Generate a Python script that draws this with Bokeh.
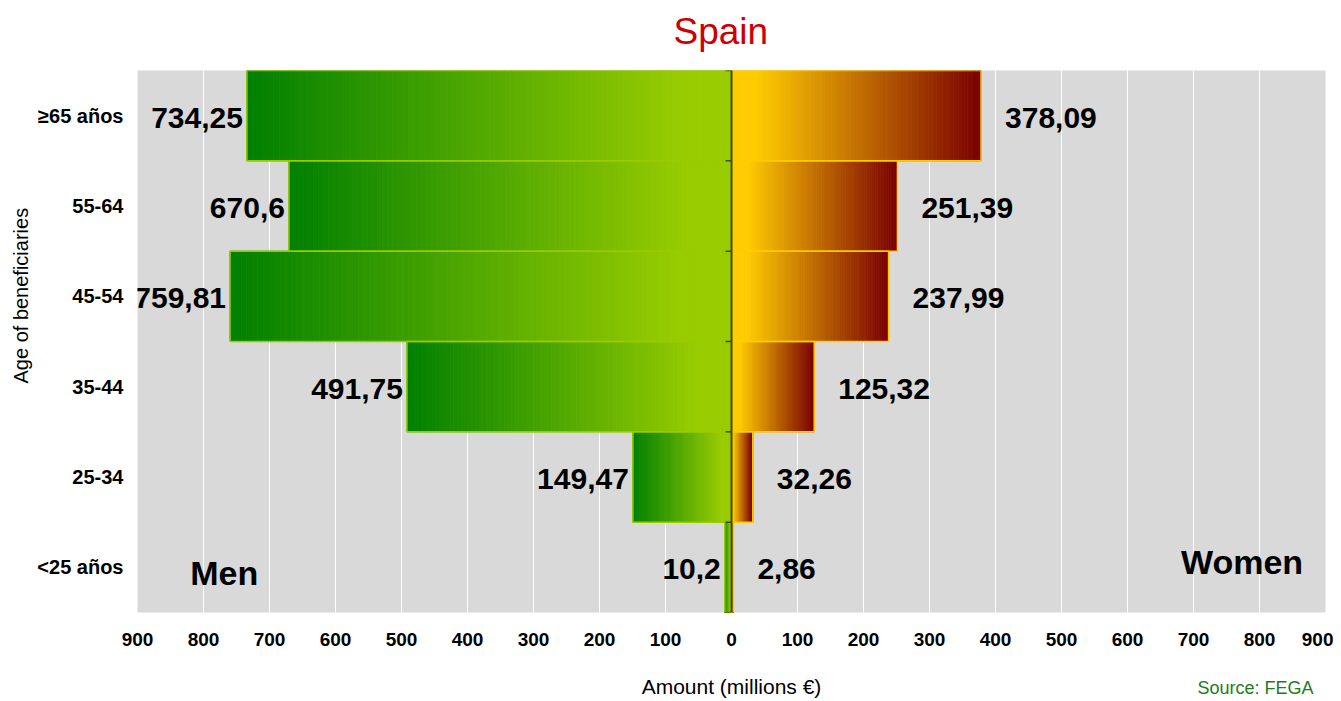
from bokeh.plotting import figure
from bokeh.models import Range1d, FactorRange, FixedTicker, CustomJSTickFormatter, Span, Title, ColumnDataSource
from bokeh.core.properties import value
from bokeh.embed import file_html
from bokeh.resources import INLINE

# ---------------- data ----------------
categories = ["≥65 años", "55-64", "45-54", "35-44", "25-34", "<25 años"]   # top to bottom
men_values = [734.25, 670.6, 759.81, 491.75, 149.47, 10.2]
women_values = [378.09, 251.39, 237.99, 125.32, 32.26, 2.86]
x_ticks = list(range(-900, 1000, 100))

men_labels = [str(v).replace(".", ",") for v in men_values]
women_labels = [str(v).replace(".", ",") for v in women_values]

FONT = "Liberation Sans"
MEN_STOPS = [(0.0, (0, 128, 0)), (0.9, (153, 204, 0)), (1.0, (153, 204, 0))]
WOMEN_STOPS = [(0.0, (255, 204, 0)), (0.1, (255, 204, 0)), (1.0, (122, 0, 0))]
N_SLICES = 90


def lerp_color(stops, t):
    for (p0, c0), (p1, c1) in zip(stops[:-1], stops[1:]):
        if t <= p1:
            f = 0.0 if p1 == p0 else (t - p0) / (p1 - p0)
            f = min(max(f, 0.0), 1.0)
            return "#%02x%02x%02x" % tuple(int(round(a + (b - a) * f)) for a, b in zip(c0, c1))
    return "#%02x%02x%02x" % stops[-1][1]


def gradient_slices(cats, vals, sign, stops):
    ys, lefts, rights, colors = [], [], [], []
    for c, v in zip(cats, vals):
        start = -v if sign < 0 else 0.0
        for i in range(N_SLICES):
            ys.append(c)
            lefts.append(start + v * i / N_SLICES)
            rights.append(start + v * (i + 1) / N_SLICES)
            colors.append(lerp_color(stops, (i + 0.5) / N_SLICES))
    return ColumnDataSource(dict(y=ys, left=lefts, right=rights, color=colors))


p = figure(
    width=1333, height=700,
    x_range=Range1d(-900, 900),
    y_range=FactorRange(factors=categories[::-1]),
    output_backend="svg", toolbar_location=None,
    min_border_left=137, min_border_right=8, min_border_top=70, min_border_bottom=88,
    x_axis_label="Amount (millions €)",
)

p.background_fill_color = "#d9d9d9"
p.border_fill_color = "white"
p.outline_line_color = None
p.title.text = ""

# spacer + main title above the frame
p.add_layout(Title(text=" ", text_font_size="15px", standoff=0), "above")
p.add_layout(Title(text="Spain", align="left", offset=536, standoff=0, vertical_align="bottom",
                   text_font=FONT, text_font_size="37px", text_font_style="normal",
                   text_color="#cc0000"), "above")

# y-axis title (side title so it can sit a little above centre)
p.add_layout(Title(text="Age of beneficiaries", align="left", offset=229, standoff=6,
                   text_font=FONT, text_font_size="20px", text_font_style="normal",
                   text_color="black"), "left")

# grid
p.xgrid.ticker = FixedTicker(ticks=x_ticks)
p.xgrid.grid_line_color = "white"
p.xgrid.grid_line_width = 1
p.ygrid.grid_line_color = None

# x axis
xa = p.xaxis[0]
xa.ticker = FixedTicker(ticks=x_ticks)
xa.formatter = CustomJSTickFormatter(code="return Math.abs(tick).toString();")
xa.major_label_text_font = FONT
xa.major_label_text_font_size = "19px"
xa.major_label_text_font_style = "bold"
xa.major_label_text_color = "black"
xa.major_label_standoff = 20
xa.major_tick_in = 0
xa.major_tick_out = 0
xa.minor_tick_in = 0
xa.minor_tick_out = 0
xa.axis_line_color = None
xa.axis_label_text_font = FONT
xa.axis_label_text_font_size = "21px"
xa.axis_label_text_font_style = "normal"
xa.axis_label_text_color = "black"
xa.axis_label_standoff = 26

# source note, pulled up onto the axis-title row
p.add_layout(Title(text="Source: FEGA", align="right", offset=12, standoff=-46, vertical_align="top",
                   text_font=FONT, text_font_size="18px", text_font_style="normal",
                   text_color="#1e7b1e"), "below")

# y axis
ya = p.yaxis[0]
ya.major_label_text_font = FONT
ya.major_label_text_font_size = "20px"
ya.major_label_text_font_style = "bold"
ya.major_label_text_color = "black"
ya.major_label_standoff = 14
ya.major_tick_in = 0
ya.major_tick_out = 0
ya.axis_line_color = None

# gradient bars
men_src = gradient_slices(categories, men_values, -1, MEN_STOPS)
women_src = gradient_slices(categories, women_values, 1, WOMEN_STOPS)
p.hbar(y="y", height=1.0, left="left", right="right", fill_color="color",
       line_color="color", line_width=0.8, source=men_src)
p.hbar(y="y", height=1.0, left="left", right="right", fill_color="color",
       line_color="color", line_width=0.8, source=women_src)

# bar outlines
p.hbar(y=categories, height=1.0, left=[-v for v in men_values], right=0,
       fill_color=None, line_color="#99cc00", line_width=1.5)
p.hbar(y=categories, height=1.0, left=0, right=women_values,
       fill_color=None, line_color="#ffcc00", line_width=1.5)

# centre line with category ticks
p.add_layout(Span(location=0, dimension="height", line_color="#3f4c00", line_width=2))
boundaries = list(range(len(categories) + 1))
p.segment(x0=[-9] * len(boundaries), x1=[0] * len(boundaries), y0=boundaries, y1=boundaries,
          line_color="#3f4c00", line_width=1.5)

# value labels
p.text(x=[-v for v in men_values], y=categories, text=men_labels,
       text_align="right", text_baseline="middle", x_offset=-4, y_offset=2,
       text_font=value(FONT), text_font_style="bold", text_font_size="30px", text_color="black")
p.text(x=women_values, y=categories, text=women_labels,
       text_align="left", text_baseline="middle", x_offset=24, y_offset=2,
       text_font=value(FONT), text_font_style="bold", text_font_size="30px", text_color="black")

# Men / Women annotations
p.text(x=[-820], y=[categories[-1]], text=["Men"], text_align="left", text_baseline="middle",
       y_offset=6, text_font=value(FONT), text_font_style="bold", text_font_size="34px", text_color="black")
p.text(x=[866], y=[categories[-1]], text=["Women"], text_align="right", text_baseline="middle",
       y_offset=-5, text_font=value(FONT), text_font_style="bold", text_font_size="34px", text_color="black")

open("out.html", "w").write(file_html(p, INLINE))
